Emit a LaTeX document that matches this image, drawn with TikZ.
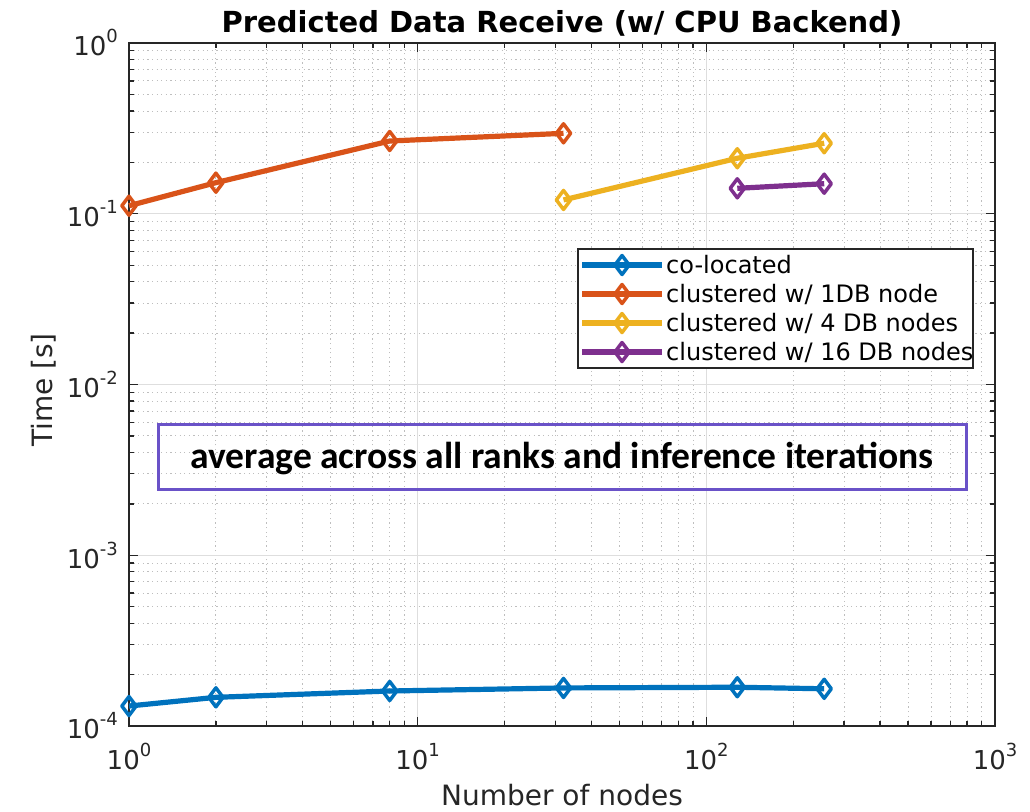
\documentclass[tikz,border=0pt]{standalone}
\usepackage{fontspec}
\setmainfont{DejaVu Sans}
\newfontfamily\notefont{Carlito}
\usetikzlibrary{plotmarks}

\definecolor{axgray}{HTML}{262626}
\definecolor{mblue}{RGB}{0,114,189}
\definecolor{morange}{RGB}{217,83,25}
\definecolor{myellow}{RGB}{237,177,32}
\definecolor{mpurple}{RGB}{126,47,142}
\definecolor{notecol}{RGB}{106,82,200}
\definecolor{majgrid}{RGB}{222,222,222}
\definecolor{mingrid}{RGB}{190,190,190}

% power-of-ten tick label with a raised exponent
\newcommand\tenexp[1]{10\raisebox{13pt}{\fontsize{18}{18}\selectfont #1}}

\tikzset{
  majorgrid/.style={draw=majgrid, line width=1pt},
  minorgrid/.style={draw=mingrid, line width=0.9pt, dash pattern=on 1.2pt off 3.4pt},
  axline/.style={draw=axgray, line width=1.3pt},
  ticklabel/.style={inner sep=0pt, text=axgray, font=\fontsize{26}{26}\selectfont},
  series/.style={line width=5.2pt, line join=round, mark size=9.5pt,
                 mark options={line width=3.5pt, solid, fill=none}},
  legtext/.style={anchor=base west, inner sep=0pt, font=\fontsize{24}{24}\selectfont},
}

\begin{document}
\begin{tikzpicture}[x=1pt,y=-1pt]
\useasboundingbox (0,0) rectangle (1030,811);
\fill[white] (0,0) rectangle (1030,811);

% log-log axes: x in decades of nodes (10^0..10^3), y in decades of time + 4 (10^-4..10^0)
\begin{scope}[shift={(129,726)}, x=288.67pt, y=170.75pt]
  % minor grid
  \foreach \d in {0,1,2} \foreach \k in {2,...,9} {
    \pgfmathsetmacro\lx{\d+log10(\k)}
    \draw[minorgrid] (\lx,0) -- (\lx,4);
  }
  \foreach \d in {0,...,3} \foreach \k in {2,...,9} {
    \pgfmathsetmacro\ly{\d+log10(\k)}
    \draw[minorgrid] (0,\ly) -- (3,\ly);
  }
  % major grid
  \foreach \d in {1,2} \draw[majorgrid] (\d,0) -- (\d,4);
  \foreach \d in {1,2,3} \draw[majorgrid] (0,\d) -- (3,\d);

  % minor ticks on all four sides
  \foreach \d in {0,1,2} \foreach \k in {2,...,9} {
    \pgfmathsetmacro\lx{\d+log10(\k)}
    \draw[axline] (\lx,0) -- ++(0,5pt);
    \draw[axline] (\lx,4) -- ++(0,-5pt);
  }
  \foreach \d in {0,...,3} \foreach \k in {2,...,9} {
    \pgfmathsetmacro\ly{\d+log10(\k)}
    \draw[axline] (0,\ly) -- ++(5pt,0);
    \draw[axline] (3,\ly) -- ++(-5pt,0);
  }
  % major ticks
  \foreach \d in {0,...,3} {
    \draw[axline] (\d,0) -- ++(0,9pt);
    \draw[axline] (\d,4) -- ++(0,-9pt);
  }
  \foreach \d in {0,...,4} {
    \draw[axline] (0,\d) -- ++(9pt,0);
    \draw[axline] (3,\d) -- ++(-9pt,0);
  }
  % axes box
  \draw[axline] (0,0) rectangle (3,4);

  % tick labels
  \foreach \d in {0,...,3}
    \node[ticklabel, anchor=north] (xt\d) at ([yshift=-17pt]\d,0) {\tenexp{\d}};
  \foreach \d in {0,...,4}
    \node[ticklabel, anchor=east] (yt\d) at ([xshift=-11pt]0,\d) {\tenexp{\number\numexpr\d-4\relax}};

  % data series
  \draw[series, mblue] plot[mark=diamond] coordinates
    {(0,0.117) (0.30103,0.168) (0.90309,0.205) (1.50515,0.223) (2.10721,0.227) (2.40824,0.218)};
  \draw[series, morange] plot[mark=diamond] coordinates
    {(0,3.047) (0.30103,3.182) (0.90309,3.426) (1.50515,3.471)};
  \draw[series, myellow] plot[mark=diamond] coordinates
    {(1.50515,3.081) (2.10721,3.325) (2.40824,3.413)};
  \draw[series, mpurple] plot[mark=diamond] coordinates
    {(2.10721,3.149) (2.40824,3.176)};
\end{scope}

% legend
\draw[fill=white, draw=axgray, line width=1.2pt] (578,249) rectangle (973,368);
\draw[series, mblue] plot[mark=diamond, mark indices={2}] coordinates {(582,265) (622,265) (662,265)};
\draw[series, morange] plot[mark=diamond, mark indices={2}] coordinates {(582,294) (622,294) (662,294)};
\draw[series, myellow] plot[mark=diamond, mark indices={2}] coordinates {(582,323) (622,323) (662,323)};
\draw[series, mpurple] plot[mark=diamond, mark indices={2}] coordinates {(582,352) (622,352) (662,352)};
\node[legtext] (leg1) at (666,273.5) {co-located};
\node[legtext] (leg2) at (666,302.5) {clustered w/ 1DB node};
\node[legtext] (leg3) at (666,331.5) {clustered w/ 4 DB nodes};
\node[legtext] (leg4) at (666,360.5) {clustered w/ 16 DB nodes};

% annotation box
\draw[notecol, line width=3pt] (158,424) rectangle (966,489);
\node[anchor=base, inner sep=0pt, font=\notefont\bfseries\fontsize{37.5}{37.5}\selectfont] (note) at (562,468)
  {average across all ranks and inference iterations};

% title and axis labels
\node[anchor=base, inner sep=0pt, font=\bfseries\fontsize{29}{29}\selectfont] (title) at (562,32)
  {Predicted Data Receive (w/ CPU Backend)};
\node[anchor=base, inner sep=0pt, text=axgray, font=\fontsize{28}{28}\selectfont] (xlabel) at (562,805)
  {Number of nodes};
\node[rotate=90, anchor=base, inner sep=0pt, text=axgray, font=\fontsize{28}{28}\selectfont] (ylabel) at (52,390)
  {Time [s]};
\end{tikzpicture}
\end{document}
